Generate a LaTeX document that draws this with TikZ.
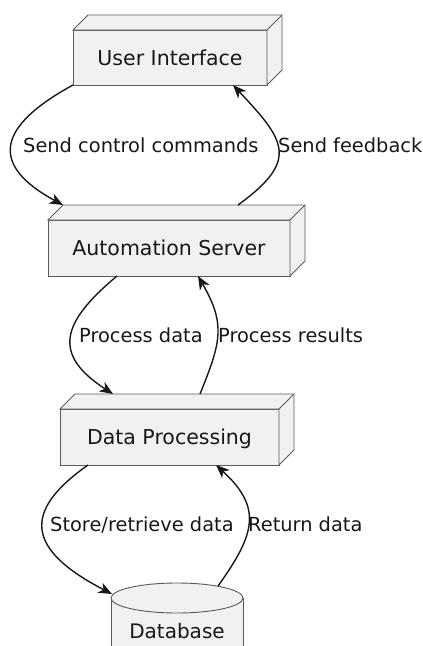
\documentclass[tikz,border=0pt]{standalone}
\usepackage{fontspec}
\setmainfont{DejaVu Sans}
\usetikzlibrary{arrows.meta,calc}
\definecolor{boxfill}{HTML}{F1F1F1}
\definecolor{boxedge}{HTML}{5A5A5A}
\definecolor{linecol}{HTML}{181818}
\tikzset{
  box/.style={draw=boxedge, fill=boxfill, line width=0.9pt, inner sep=0pt, outer sep=0pt,
    font=\fontsize{20.5}{24}\selectfont, text height=15.6pt, text depth=0pt, text=linecol},
  boxline/.style={draw=boxedge, fill=boxfill, line width=0.9pt, line join=miter},
  lbl/.style={inner sep=0pt, font=\fontsize{19.4}{23}\selectfont, text=linecol},
  conn/.style={draw=linecol, line width=1.4pt, -{Stealth[length=13.5pt, width=11pt, inset=4pt]}},
}
\begin{document}
\begin{tikzpicture}[x=1pt,y=-1pt]
\path[use as bounding box, clip] (0,0) rectangle (423,646);

% 3D boxes (front faces are the nodes)
\node[box, minimum width=194pt, minimum height=55pt] (ui) at (170,57.5) {User Interface};
\node[box, minimum width=242pt, minimum height=56pt] (as) at (169,248) {Automation Server};
\node[box, minimum width=219pt, minimum height=56pt] (dp) at (169.5,437) {Data Processing};
\foreach \n in {ui,as,dp}{
  \filldraw[boxline] (\n.north west) -- ++(15,-15) -- ($(\n.north east)+(15,-15)$)
    -- ($(\n.south east)+(15,-15)$) -- (\n.south east) -- (\n.north east) -- cycle;
  \draw[boxline, fill=none] (\n.north east) -- ++(15,-15);
}

% database cylinder
\coordinate (dbtop) at (177,598);
\filldraw[boxline] ($(dbtop)+(-66,0)$) -- ++(0,80) -- ++(132,0) -- ($(dbtop)+(66,0)$) -- cycle;
\filldraw[boxline] (dbtop) ellipse[x radius=66, y radius=15];
\node[lbl, font=\fontsize{20}{24}\selectfont, anchor=base] (db) at (177,638) {Database};

% connectors
\draw[conn] (ui.south west) .. controls (-2,126) and (-12,164.3) .. ($(as.north west)+(15,-15)$);
\draw[conn] ($(as.north)+(69,-15)$) .. controls (300,160) and (285,140.5) .. ($(ui.south)+(63,0)$);
\draw[conn] ($(as.south)+(-52,0)$) .. controls (61,322.8) and (52,354.4) .. ($(dp.north)+(-56.5,-15)$);
\draw[conn] ($(dp.north)+(30.5,-15)$) .. controls (221,342.1) and (226,324.5) .. ($(as.south)+(29,0)$);
\draw[conn] ($(dp.south)+(-81.5,0)$) .. controls (22,511.4) and (26,549.3) .. ($(dbtop)+(-65,-4)$);
\draw[conn] ($(dbtop)+(41,-12)$) .. controls (256,533.2) and (262,507.3) .. ($(dp.south)+(46.5,0)$);

% labels
\node[lbl, anchor=base west] (l1) at (23,152) {Send control commands};
\node[lbl, anchor=base west] (l2) at (278,152) {Send feedback};
\node[lbl, anchor=base west] (l3) at (79,342) {Process data};
\node[lbl, anchor=base west] (l4) at (218,342) {Process results};
\node[lbl, anchor=base west] (l5) at (50,531) {Store/retrieve data};
\node[lbl, anchor=base west] (l6) at (248,531) {Return data};
\end{tikzpicture}
\end{document}
